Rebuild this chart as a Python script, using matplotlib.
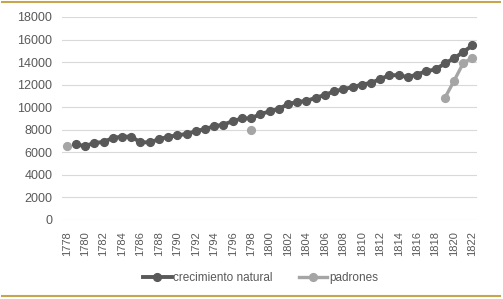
import matplotlib
matplotlib.use("Agg")
import matplotlib.pyplot as plt
from matplotlib.lines import Line2D
import numpy as np

years = list(range(1778, 1823))

crecimiento_natural = [None, 6700, 6560, 6830, 6920, 7270, 7390, 7390, 6890, 6890,
                       7150, 7380, 7510, 7630, 7870, 8070, 8310, 8460, 8760, 9000,
                       9020, 9380, 9630, 9850, 10270, 10470, 10560, 10830, 11090, 11400,
                       11600, 11780, 12000, 12160, 12490, 12840, 12840, 12670, 12900, 13200,
                       13350, 13880, 14330, 14890, 15480]

padrones = {1778: 6560, 1798: 8000, 1819: 10800, 1820: 12320, 1821: 13900, 1822: 14400}

y_ticks = [0, 2000, 4000, 6000, 8000, 10000, 12000, 14000, 16000, 18000]

dark = "#595959"
light = "#A5A5A5"
gold = "#C9A44E"
font = "Liberation Sans"

fig = plt.figure(figsize=(5.03, 2.99), dpi=100)
ax = fig.add_axes([62/503, 1-220/299, 415/503, 203/299])

x_idx = np.arange(len(years))
cn_x = [i for i, v in zip(x_idx, crecimiento_natural) if v is not None]
cn_y = [v for v in crecimiento_natural if v is not None]
ax.plot(cn_x, cn_y, color=dark, lw=2.8, marker="o", markersize=5.6,
        solid_joinstyle="round", zorder=3, label="crecimiento natural")

p_years = list(padrones.keys())
p_x = [years.index(y) for y in p_years]
p_y = [padrones[y] for y in p_years]
segs = []
cur_x, cur_y = [p_x[0]], [p_y[0]]
for xx, yy in zip(p_x[1:], p_y[1:]):
    if xx == cur_x[-1] + 1:
        cur_x.append(xx); cur_y.append(yy)
    else:
        segs.append((cur_x, cur_y)); cur_x, cur_y = [xx], [yy]
segs.append((cur_x, cur_y))
for sx, sy in segs:
    ax.plot(sx, sy, color=light, lw=2.4, marker="o", markersize=5.6, zorder=2)

ax.set_xlim(-0.5, len(years) - 0.5)
ax.set_ylim(0, 18000)
ax.set_yticks(y_ticks)
ax.set_yticklabels([str(t) for t in y_ticks], fontsize=9, color=dark, family=font)
ax.set_xticks(x_idx[::2])
ax.set_xticklabels([str(y) for y in years[::2]], rotation=90, fontsize=8,
                   color=dark, family=font)
ax.tick_params(axis="both", length=0)
ax.tick_params(axis="x", pad=8)
ax.tick_params(axis="y", pad=7)
ax.grid(axis="y", color="#D9D9D9", lw=0.8)
ax.set_axisbelow(True)
for s in ax.spines.values():
    s.set_visible(False)

handles = [Line2D([], [], color=dark, lw=2.8, marker="o", markersize=5.6),
           Line2D([], [], color=light, lw=2.4, marker="o", markersize=5.6)]
fig.legend(handles, ["crecimiento natural", "padrones"], loc="center",
           bbox_to_anchor=(0.518, 1-278/299), ncol=2, frameon=False,
           prop={"family": font, "size": 8.5}, labelcolor=dark,
           handlelength=2.4, handletextpad=0.15, columnspacing=2.2)

fig.add_artist(Line2D([2/503, 500/503], [1-1.5/299, 1-1.5/299], color=gold, lw=1.5,
                      transform=fig.transFigure))
fig.add_artist(Line2D([2/503, 500/503], [1-296/299, 1-296/299], color=gold, lw=1.5,
                      transform=fig.transFigure))

fig.savefig("out.png", dpi=100)
